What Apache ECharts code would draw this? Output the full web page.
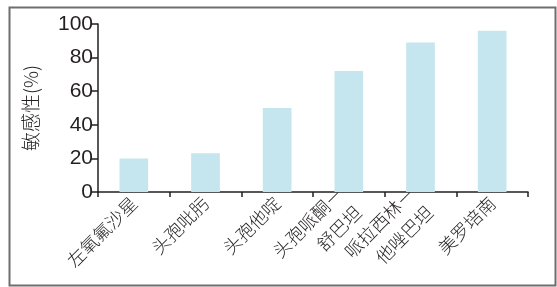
<!DOCTYPE html>
<html><head><meta charset="utf-8">
<script src="https://cdn.jsdelivr.net/npm/echarts@6/dist/echarts.min.js"></script>
<style>html,body{margin:0;padding:0;background:#fff}#c{width:557px;height:287px}</style>
</head><body><div id="c"></div>
<script>
const categories = ['左氧氟沙星', '头孢吡肟', '头孢他啶', '头孢哌酮－\n舒巴坦', '哌拉西林－\n他唑巴坦', '美罗培南'];
const sensitivity = [20, 23, 50, 72, 89, 96];
const yTicks = [0, 20, 40, 60, 80, 100];
const yName = '敏感性(%)';

const chart = echarts.init(document.getElementById('c'), null, {renderer: 'canvas'});
chart.setOption({
  animation: false,
  graphic: [{
    type: 'rect', left: 7, top: 5, shape: {width: 546, height: 278},
    style: {fill: 'none', stroke: '#6e6e6e', lineWidth: 2}, silent: true
  }],
  grid: {left: 98, right: 29, top: 24, bottom: 95},
  xAxis: {
    type: 'category', data: categories,
    axisLine: {lineStyle: {color: '#231f20', width: 1.5}},
    axisTick: {show: true, length: 5, lineStyle: {color: '#231f20', width: 1.5}},
    axisLabel: {rotate: 45, fontSize: 18, color: '#231f20', margin: 8, lineHeight: 26,
      fontFamily: 'Noto Sans CJK SC', fontWeight: 300}
  },
  yAxis: {
    type: 'value', min: yTicks[0], max: yTicks[yTicks.length - 1], interval: 20,
    name: yName, nameLocation: 'middle', nameGap: 58, nameRotate: 90,
    nameTextStyle: {fontSize: 19, color: '#231f20', fontFamily: 'Noto Sans CJK SC', fontWeight: 300},
    axisLine: {show: true, lineStyle: {color: '#231f20', width: 1.5}},
    axisTick: {show: true, length: 7, lineStyle: {color: '#231f20', width: 1.5}},
    axisLabel: {fontSize: 21, color: '#231f20', margin: 5, fontFamily: 'Liberation Sans'},
    splitLine: {show: false}
  },
  series: [{
    type: 'bar', data: sensitivity, barWidth: '40%',
    itemStyle: {color: '#c5e6ee'}
  }]
});
</script></body></html>
